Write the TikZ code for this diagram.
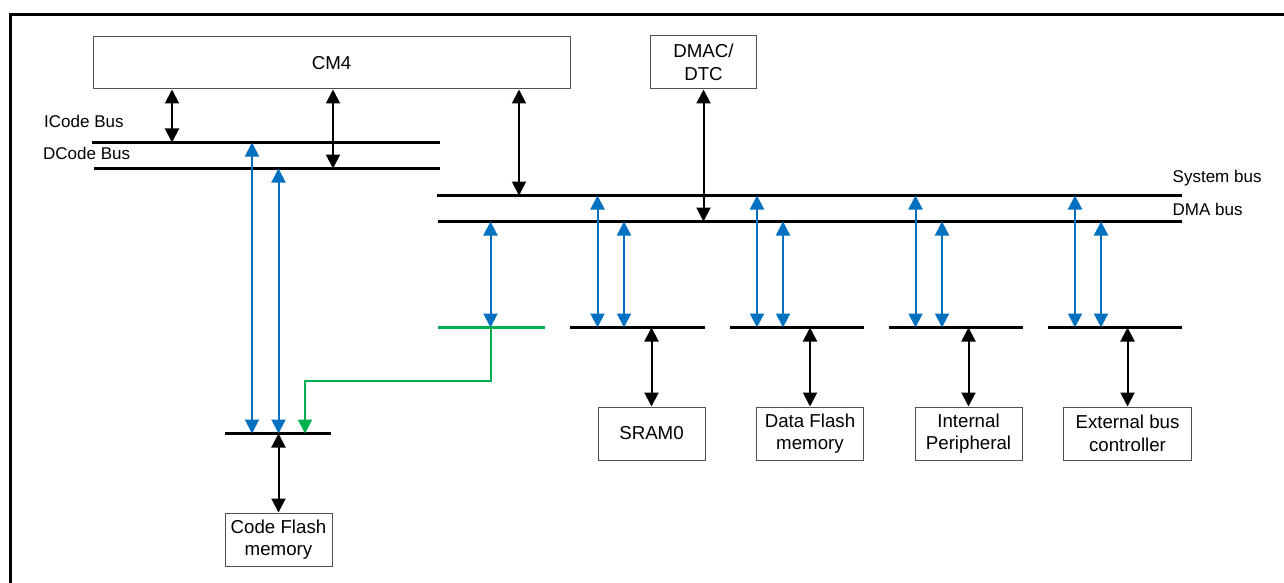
\documentclass[tikz,border=0pt]{standalone}
\usepackage{fontspec}
\setmainfont{Liberation Sans}
\usetikzlibrary{arrows.meta}
\definecolor{busblue}{HTML}{0070C0}
\definecolor{busgreen}{HTML}{00B050}
\definecolor{boxgray}{HTML}{505050}
\tikzset{
  blk/.style={draw=boxgray, line width=1pt, fill=white, align=center, inner sep=0pt,
              font=\fontsize{18.7}{22.5}\selectfont},
  lbl/.style={anchor=west, inner sep=0pt, font=\fontsize{17}{20}\selectfont},
  busline/.style={line width=2.5pt},
  dbl/.style={{Triangle[length=14pt,width=14pt]}-{Triangle[length=14pt,width=14pt]}, line width=2pt},
  one/.style={-{Triangle[length=14pt,width=14pt]}, line width=2pt},
}
\begin{document}
\begin{tikzpicture}[x=1pt,y=-1pt]
\useasboundingbox (0,0) rectangle (1284,583);
% frame
\draw[line width=3pt] (10.5,583) -- (10.5,14.5) -- (1284,14.5);

% boxes
\node[blk, minimum width=477, minimum height=52] (cm4) at (331.5,63) {CM4};
\node[blk, minimum width=106, minimum height=53] (dmac) at (703.5,62.5) {DMAC/\\DTC};
\node[blk, minimum width=107, minimum height=53] (cflash) at (278.5,539.5) {Code Flash\\memory};
\node[blk, minimum width=107, minimum height=53] (sram) at (651.5,433.5) {SRAM0};
\node[blk, minimum width=107, minimum height=53] (dflash) at (810,433.5) {Data Flash\\memory};
\node[blk, minimum width=107, minimum height=53] (iperi) at (968.5,433.5) {Internal\\Peripheral};
\node[blk, minimum width=128, minimum height=53] (ebc) at (1127.5,433.5) {External bus\\controller};

% labels
\node[lbl] (lic) at (44,121.5) {ICode Bus};
\node[lbl] (ldc) at (43,153) {DCode Bus};
\node[lbl] (lsys) at (1172.5,178.5) {System bus};
\node[lbl] (ldma) at (1172.5,209) {DMA bus};

% bus coordinates
\coordinate (ibL) at (92,142.5);   \coordinate (ibR) at (440,142.5);
\coordinate (dbL) at (94,168.5);   \coordinate (dbR) at (440,168.5);
\coordinate (sbL) at (437,195.5);  \coordinate (sbR) at (1182,195.5);
\coordinate (mbL) at (438,221.5);  \coordinate (mbR) at (1182,221.5);
\coordinate (gbL) at (438,327.5);  \coordinate (gbR) at (545,327.5);
\coordinate (s1L) at (570,327.5);  \coordinate (s1R) at (705,327.5);
\coordinate (s2L) at (730,327.5);  \coordinate (s2R) at (864,327.5);
\coordinate (s3L) at (889,327.5);  \coordinate (s3R) at (1023,327.5);
\coordinate (s4L) at (1048,327.5); \coordinate (s4R) at (1182,327.5);
\coordinate (cbL) at (225,433.5);  \coordinate (cbR) at (331,433.5);

\draw[busline] (ibL) -- (ibR);
\draw[busline] (dbL) -- (dbR);
\draw[busline] (sbL) -- (sbR);
\draw[busline] (mbL) -- (mbR);
\draw[busline] (s1L) -- (s1R);
\draw[busline] (s2L) -- (s2R);
\draw[busline] (s3L) -- (s3R);
\draw[busline] (s4L) -- (s4R);
\draw[busline] (cbL) -- (cbR);
\draw[busline, busgreen] (gbL) -- (gbR);

% CM4 / DMAC connections
\coordinate (x1) at (172,0);
\coordinate (x2) at (333,0);
\coordinate (x3) at (519,0);
\draw[dbl] (cm4.south -| x1) -- (ibL -| x1);
\draw[dbl] (cm4.south -| x2) -- (dbL -| x2);
\draw[dbl] (cm4.south -| x3) -- (sbL -| x3);
\draw[dbl] (dmac.south) -- (mbL -| dmac.south);

% code flash blue arrows
\coordinate (x4) at (252,0);
\coordinate (x5) at (278.5,0);
\draw[dbl, busblue] (ibL -| x4) -- (cbL -| x4);
\draw[dbl, busblue] (dbL -| x5) -- (cbL -| x5);
\draw[dbl] (cbL -| cflash.north) -- (cflash.north);

% green path
\coordinate (x6) at (490.5,0);
\coordinate (gk1) at (490.5,381);
\coordinate (gk2) at (305,381);
\draw[dbl, busblue] (mbL -| x6) -- (gbL -| x6);
\draw[one, busgreen] (gbL -| x6) -- (gk1) -- (gk2) -- (cbL -| gk2);

% slave blue arrows
\foreach \xa/\xb in {597.5/624, 757/783, 915.5/942, 1075/1101}{
  \coordinate (ta) at (\xa,0);
  \coordinate (tb) at (\xb,0);
  \draw[dbl, busblue] (sbL -| ta) -- (s1L -| ta);
  \draw[dbl, busblue] (mbL -| tb) -- (s1L -| tb);
}

% slave to boxes
\draw[dbl] (s1L -| sram.north) -- (sram.north);
\draw[dbl] (s2L -| dflash.north) -- (dflash.north);
\draw[dbl] (s3L -| iperi.north) -- (iperi.north);
\draw[dbl] (s4L -| ebc.north) -- (ebc.north);
\end{tikzpicture}
\end{document}
